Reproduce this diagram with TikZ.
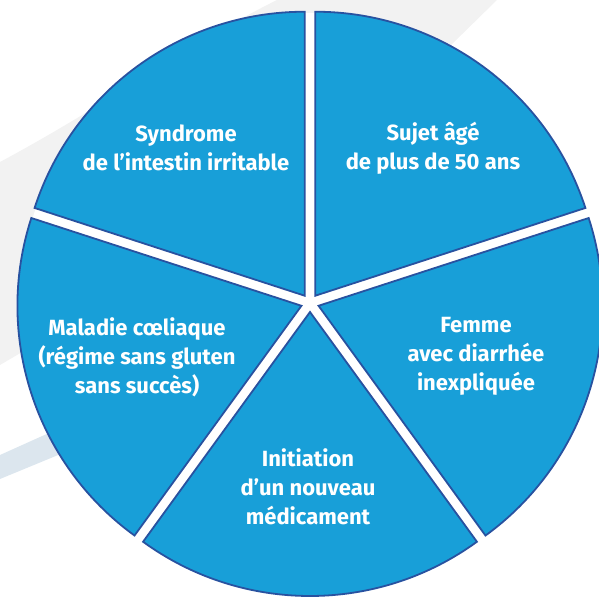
\documentclass[tikz,border=0pt]{standalone}
\usepackage{fontspec}
\setmainfont{Fira Sans}
\usepackage{tikz}
\usetikzlibrary{positioning}

\definecolor{slicefill}{RGB}{24,159,216}
\definecolor{sliceline}{RGB}{40,82,160}
\definecolor{bandgray}{RGB}{242,242,242}
\definecolor{stripeblue}{RGB}{220,230,238}

\begin{document}
\begin{tikzpicture}[x=1pt, y=1pt,
        slice/.style={fill=slicefill, draw=sliceline, line width=1.8pt, line join=miter},
        label/.style={align=center, text=white, font=\bfseries\fontsize{22}{29}\selectfont}]
        \useasboundingbox (-310,-299) rectangle (289,303);

        % faint swooshes behind the pie
        \fill[bandgray] (-310,141) .. controls (-200,200) and (-120,260) .. (-33,303)
            -- (187,303) -- (0,120) -- (-310,-62) -- cycle;
        \fill[stripeblue] (-310,-152) -- (-150,-80) -- (-150,-110) -- (-310,-176) -- cycle;
        \fill[white] (0,0) circle (290);

        % the five exploded slices
        \foreach \s in {18,90,162,234,306} {
            \pgfmathsetmacro\m{\s+36}
            \draw[slice, shift={(\m:9)}] (0,0) -- (\s:284)
                arc[start angle=\s, end angle=\s+72, radius=284] -- cycle;
        }

        \node[label] (syndrome) at (-124,155) {Syndrome\\de l’intestin irritable};
        \node[label] (sujet) at (123,155) {Sujet âgé\\de plus de 50 ans};
        \node[label] (femme) at (166,-53) {Femme\\avec diarrhée\\inexpliquée};
        \node[label] (initiation) at (-2,-184) {Initiation\\d’un nouveau\\médicament};
        \node[label] (maladie) at (-173,-54) {Maladie cœliaque\\(régime sans gluten\\sans succès)};
    \end{tikzpicture}
\end{document}
